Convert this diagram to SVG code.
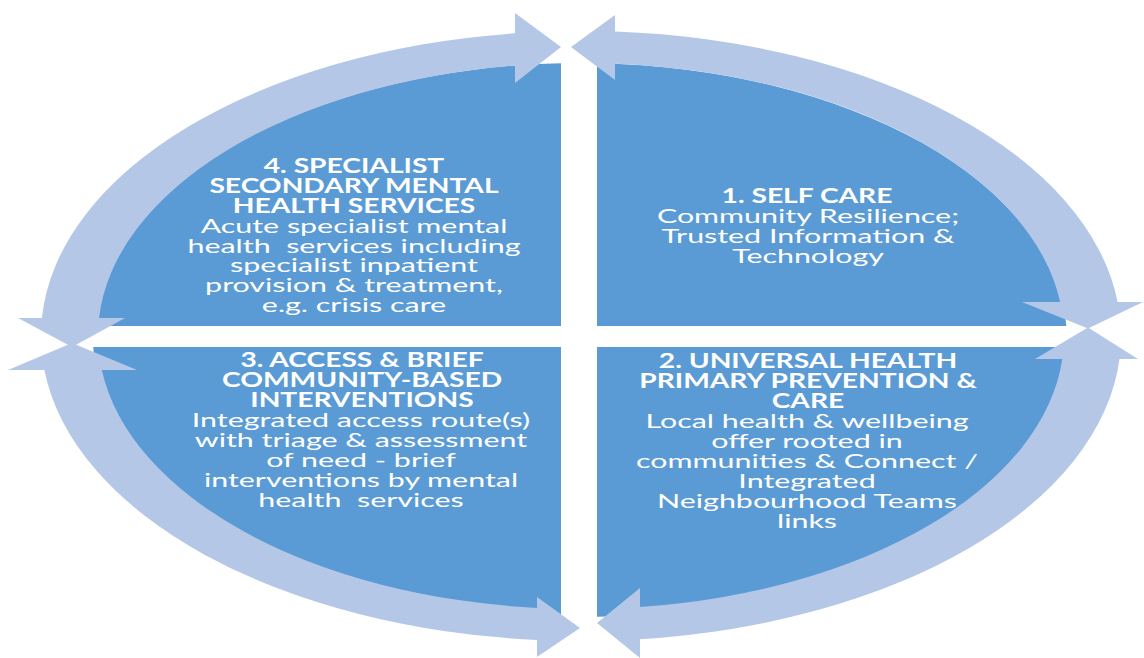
<svg xmlns="http://www.w3.org/2000/svg" width="1144" height="658" viewBox="0 0 1144 658">
  <style>
    .quad { fill: #5B9BD5; }
    .arrow { fill: #B4C7E7; }
    .t { font-family: Lato, "Open Sans", "Liberation Sans", sans-serif; font-size: 20px; fill: #FFFFFF; text-anchor: middle; white-space: pre; }
    .b { font-weight: bold; }
  </style>
  <rect width="1144" height="658" fill="#FFFFFF"/>

  <!-- quadrant 1: top right -->
  <g id="q1-self-care">
    <path class="quad" d="M597,326 L597,63.2 A487,277 0 0 1 1066.4,326 Z"/>
    <text class="t b" transform="translate(807,0) scale(1.41,1)"><tspan x="0" y="203">1. SELF CARE</tspan></text>
    <text class="t" transform="translate(808,0) scale(1.52,1)"><tspan x="0" y="223">Community Resilience;</tspan><tspan x="0" y="243">Trusted Information &amp;</tspan><tspan x="0" y="263">Technology</tspan></text>
  </g>

  <!-- quadrant 2: bottom right -->
  <g id="q2-universal-health">
    <path class="quad" d="M597,347 L1066.8,347 A487,277 0 0 1 597,616.8 Z"/>
    <text class="t b" transform="translate(808,0) scale(1.41,1)"><tspan x="0" y="368">2. UNIVERSAL HEALTH</tspan><tspan x="0" y="388">PRIMARY PREVENTION &amp;</tspan><tspan x="0" y="408">CARE</tspan></text>
    <text class="t" transform="translate(807,0) scale(1.52,1)"><tspan x="0" y="428">Local health &amp; wellbeing</tspan><tspan x="0" y="448">offer rooted in</tspan><tspan x="0" y="468">communities &amp; Connect /</tspan><tspan x="0" y="488">Integrated</tspan><tspan x="0" y="508">Neighbourhood Teams</tspan><tspan x="0" y="528">links</tspan></text>
  </g>

  <!-- quadrant 3: bottom left -->
  <g id="q3-access-brief">
    <path class="quad" d="M561,347 L93.2,347 A487,277 0 0 0 561,616.8 Z"/>
    <text class="t b" transform="translate(362,0) scale(1.41,1)"><tspan x="0" y="367">3. ACCESS &amp; BRIEF</tspan><tspan x="0" y="387">COMMUNITY-BASED</tspan><tspan x="0" y="407">INTERVENTIONS</tspan></text>
    <text class="t" transform="translate(361,0) scale(1.52,1)" xml:space="preserve"><tspan x="0" y="427">Integrated access route(s)</tspan><tspan x="0" y="447">with triage &amp; assessment</tspan><tspan x="0" y="467">of need - brief</tspan><tspan x="0" y="487">interventions by mental</tspan><tspan x="0" y="507">health  services</tspan></text>
  </g>

  <!-- quadrant 4: top left -->
  <g id="q4-specialist">
    <path class="quad" d="M561,326 L561,63.2 A487,277 0 0 0 93.6,326 Z"/>
    <text class="t b" transform="translate(354,0) scale(1.41,1)"><tspan x="0" y="173">4. SPECIALIST</tspan><tspan x="0" y="193">SECONDARY MENTAL</tspan><tspan x="0" y="213">HEALTH SERVICES</tspan></text>
    <text class="t" transform="translate(354,0) scale(1.52,1)" xml:space="preserve"><tspan x="0" y="233">Acute specialist mental</tspan><tspan x="0" y="253">health  services including</tspan><tspan x="0" y="272">specialist inpatient</tspan><tspan x="0" y="292">provision &amp; treatment,</tspan><tspan x="0" y="312">e.g. crisis care</tspan></text>
  </g>

  <!-- double-headed curved arrows around the cycle -->
  <g id="connectors">
    <path class="arrow" d="M515,33.3 A540,305 0 0 0 41.9,318 L18,318 L72,347 L125,318 L99,318 A483,273 0 0 1 515,65.6 L515,83 L561,47 L515,13 Z"/>
    <path class="arrow" d="M615,31.6 A540,305 0 0 1 1117.6,302 L1143,302 L1088,328.5 L1022,302 L1060.2,302 A483,273 0 0 0 615,63.7 L615,80 L571,47 L615,15 Z"/>
    <path class="arrow" d="M1119.5,359 L1138,359 L1088,327.5 L1035,359 L1062.3,359 A483,273 0 0 1 640,607 L640,588 L597,623 L640,658 L640,639.2 A540,305 0 0 0 1119.5,359 Z"/>
    <path class="arrow" d="M537,640 A540,305 0 0 1 44.4,370 L8,370 L72,343 L137,370 L101.8,370 A483,273 0 0 0 537,607.9 L537,597 L580,628 L537,657 Z"/>
  </g>
</svg>
